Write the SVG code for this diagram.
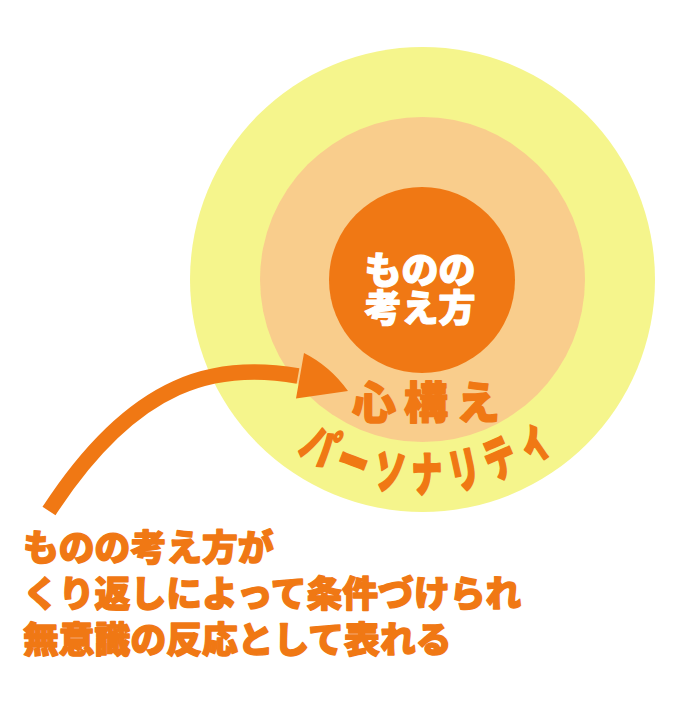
<svg xmlns="http://www.w3.org/2000/svg" width="700" height="708" viewBox="0 0 700 708">
<defs>
<style>
.jp{font-family:"Noto Sans CJK JP","Noto Sans CJK SC",sans-serif;font-weight:900;stroke-linejoin:round;}
.or{fill:#F07814;stroke:#F07814;stroke-width:1.4px;}
.wh{fill:#FFFFFF;stroke:#FFFFFF;stroke-width:1.2px;}
.pk{font-size:48px;text-anchor:middle;stroke-width:2px;}
</style>
</defs>
<rect width="700" height="708" fill="#FFFFFF"/>
<g id="personality">
<circle cx="422.5" cy="279.5" r="232.5" fill="#F5F58C"/>
<g class="jp or pk">
<text transform="translate(319.7,445) rotate(32) scale(0.64,1)" y="18">パ</text>
<text transform="translate(353.3,461.5) rotate(20.9) scale(0.64,1)" y="18">ー</text>
<text transform="translate(389.5,471.5) rotate(9.8) scale(0.64,1)" y="18">ソ</text>
<text transform="translate(426.9,474) rotate(-1.3) scale(0.64,1)" y="18">ナ</text>
<text transform="translate(464.2,469.5) rotate(-12.4) scale(0.64,1)" y="18">リ</text>
<text transform="translate(499.8,458) rotate(-23.5) scale(0.64,1)" y="18">テ</text>
<text transform="translate(532.7,440) rotate(-34.6) scale(0.64,1)" y="18">ィ</text>
</g>
</g>
<g id="kokorogamae">
<circle cx="422.5" cy="279.5" r="162.5" fill="#F9CD8C"/>
<text class="jp or" font-size="44" text-anchor="middle" y="419"><tspan x="374">心</tspan><tspan x="426">構</tspan><tspan x="478">え</tspan></text>
</g>
<g id="mononokangaekata">
<circle cx="422" cy="280" r="93" fill="#F07814"/>
<text class="jp wh" font-size="37" text-anchor="middle" x="420" y="284">ものの</text>
<text class="jp wh" font-size="37" text-anchor="middle" x="420" y="322">考え方</text>
</g>
<g id="connectors">
<path d="M49,511 C136.2,376.8 219.2,362.1 298,376" fill="none" stroke="#F07814" stroke-width="15.5"/>
<path d="M304,353 Q330,366 348,391 L296,398.5 Q300,376 304,353 Z" fill="#F07814"/>
</g>
<g id="caption" class="jp or" font-size="35.8">
<text x="23" y="561">ものの考え方が</text>
<text x="23" y="607">くり返しによって条件づけられ</text>
<text x="23" y="653">無意識の反応として表れる</text>
</g>
</svg>
